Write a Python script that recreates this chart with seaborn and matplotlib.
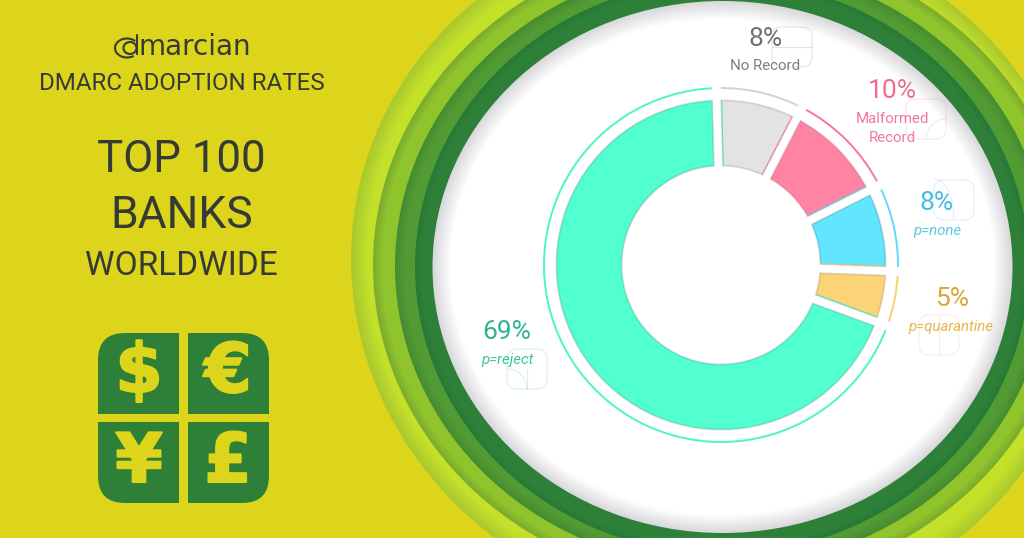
import matplotlib.patheffects as pe
import matplotlib.pyplot as plt
import seaborn as sns
from matplotlib.colors import to_rgb
from matplotlib.patches import Arc, Circle, Ellipse, FancyBboxPatch, Rectangle

W, H = 1024, 538
PX = 0.72  # one pixel in points at dpi 100

categories = ["No Record", "Malformed Record", "p=none", "p=quarantine", "p=reject"]
shares = [8, 10, 8, 5, 69]
pct_labels = ["8%", "10%", "8%", "5%", "69%"]
fill_colors = ["#e3e3e3", "#ff84a3", "#62e5ff", "#fcd478", "#52ffcf"]
edge_colors = ["#d0d0d0", "#ff749a", "#50cdec", "#ebc162", "#46ebbf"]
ring_colors = ["#d4d4d4", "#f47a98", "#62dcfa", "#f9cf74", "#4ff5c8"]
text_colors = ["#707070", "#ec6f8e", "#45bde0", "#dba537", "#2db48f"]

BG = "#dcd51b"
DARK = "#363a36"

# outer to inner: rx, ry, colour at the rim, colour of the band, width of the fade, tilt
bands = [
    (369, 347, "#a9c92f", "#c3e02a", 16, 13),
    (349, 321, "#7cab2d", "#90c42d", 9, 0),
    (327, 302, "#458c30", "#529a33", 9, 0),
    (307, 287, "#257a36", "#2e8038", 6, 0),
    (290, 266, "#d9d9dc", "#ffffff", 18, 0),
]
centers = [(719, 268), (722, 265), (722, 266), (722, 267), (722.5, 267)]


def blend(a, b, t):
    a, b = to_rgb(a), to_rgb(b)
    return tuple(x + (y - x) * t for x, y in zip(a, b))


sns.set_theme(style="white")
plt.rcParams["font.family"] = ["Roboto", "DejaVu Sans"]

fig = plt.figure(figsize=(W / 100, H / 100), dpi=100, facecolor=BG)
ax = fig.add_axes([0, 0, 1, 1])
ax.set_xlim(0, W)
ax.set_ylim(H, 0)
ax.axis("off")

# backdrop rings
for (rx, ry, rim, main, fade, tilt), (cx, cy) in zip(bands, centers):
    for i in range(fade + 1):
        ax.add_patch(
            Ellipse((cx, cy), 2 * (rx - i), 2 * (ry - i), angle=tilt, fc=blend(rim, main, i / fade), ec="none")
        )

# left column
ax.text(195, 47, "marcian", fontsize=20, color=DARK, ha="center", va="center", family="DejaVu Sans")
ax.add_patch(Arc((127, 48), 24, 19, theta1=50, theta2=320, ec=DARK, lw=1.5))
ax.add_patch(Ellipse((130, 48), 13, 12, fc="none", ec=DARK, lw=1.5))
ax.plot([137, 137], [35, 54], color=DARK, lw=1.5)

ax.text(182, 83.5, "DMARC ADOPTION RATES", fontsize=17.4, color=DARK, ha="center", va="center")
ax.text(181.5, 160, "TOP 100", fontsize=31.5, color=DARK, ha="center", va="center")
ax.text(181.5, 216, "BANKS", fontsize=32, color=DARK, ha="center", va="center")
ax.text(181, 266, "WORLDWIDE", fontsize=24, color=DARK, ha="center", va="center")

# currency tile
GREEN = "#2e8038"
ax.add_patch(
    FancyBboxPatch((98, 333), 171, 170, boxstyle="round,pad=0,rounding_size=27", fc=GREEN, ec="none")
)
ax.add_patch(Rectangle((179, 325), 9, 185, fc=BG, ec="none"))
ax.add_patch(Rectangle((90, 414), 185, 8, fc=BG, ec="none"))
for sym, x, y in [("$", 139, 373), ("€", 228, 373), ("¥", 139, 463), ("£", 228, 463)]:
    ax.text(x, y, sym, fontsize=49, fontweight="bold", color=BG, ha="center", va="center",
            family="DejaVu Sans", path_effects=[pe.withStroke(linewidth=1.5, foreground=BG)])

# faint squares behind the labels
squares = [(772, 27), (906, 99), (934, 180), (919, 315), (507, 349)]
for (x, y), color in zip(squares, text_colors):
    ax.add_patch(
        FancyBboxPatch((x, y), 40, 40, boxstyle="round,pad=0,rounding_size=10",
                       fc="none", ec=color, lw=0.8, alpha=0.18)
    )
ax.plot([772, 812], [47, 47], color=text_colors[0], lw=0.8, alpha=0.18)
ax.plot([939, 939], [315, 355], color=text_colors[3], lw=0.8, alpha=0.18)
ax.plot([527, 527], [369, 389], color=text_colors[4], lw=0.8, alpha=0.18)
ax.add_patch(Arc((946, 139), 40, 40, theta1=180, theta2=270, ec=text_colors[1], lw=0.8, alpha=0.18))
ax.add_patch(Arc((934, 219), 40, 80, theta1=270, theta2=360, ec=text_colors[2], lw=0.8, alpha=0.18))
ax.add_patch(Arc((507, 389), 40, 40, theta1=270, theta2=360, ec=text_colors[4], lw=0.8, alpha=0.18))

# labels
pct_pos = [(766, 39), (892, 91), (937, 203), (952, 299), (507, 332)]
for s, (x, y), color in zip(pct_labels, pct_pos, text_colors):
    ax.text(x, y, s, fontsize=19, color=color, ha="center", va="center")
ax.text(765, 66, "No Record", fontsize=10.8, color="#7f7f7f", ha="center", va="center")
ax.text(892, 119, "Malformed", fontsize=10.8, color="#f27898", ha="center", va="center")
ax.text(892, 138, "Record", fontsize=10.8, color="#f27898", ha="center", va="center")
ax.text(937, 231, categories[2], fontsize=10.8, style="italic", color="#5cc9e8", ha="center", va="center")
ax.text(951, 327, categories[3], fontsize=10.8, style="italic", color="#e6b44e", ha="center", va="center")
ax.text(507, 360, categories[4], fontsize=10.8, style="italic", color="#3cc4a0", ha="center", va="center")

# donut, in its own axes with one data unit per pixel
CX, CY, HALF = 721, 265, 195
pie_ax = fig.add_axes([(CX - HALF) / W, 1 - (CY + HALF) / H, 2 * HALF / W, 2 * HALF / H])
pie_ax.patch.set_alpha(0)
START = 91.5
GAP = 8


def donut_pass(colors, strokes, lw):
    wedges, _ = pie_ax.pie(shares, radius=165 + GAP / 2, colors=colors, startangle=START, counterclock=False,
                           wedgeprops=dict(width=66 + GAP))
    for w, color in zip(wedges, strokes):
        w.set_edgecolor(color)
        w.set_linewidth(lw * PX)


donut_pass(sns.color_palette(fill_colors), edge_colors, GAP + 3)
for lw, color in [(GAP + 0.8, "#cfcfcf"), (GAP - 0.2, "#e6e6e6"), (GAP - 1.2, "#ffffff")]:
    donut_pass(["none"] * 5, [color] * 5, lw)

# the strokes spill into the hole, so paint it clean
pie_ax.add_patch(Circle((0, 0), 98, fc="#ffffff", ec="none"))

# thin outer ring: the white stroke eats the wedge down to a hairline
RING_GAP = 9
pie_ax.pie(shares, radius=178 + RING_GAP / 2, colors=sns.color_palette(ring_colors), startangle=START,
           counterclock=False, wedgeprops=dict(width=2 + RING_GAP, lw=RING_GAP * PX, ec="#ffffff"))

pie_ax.set_xlim(-HALF, HALF)
pie_ax.set_ylim(-HALF, HALF)
pie_ax.set_aspect("equal")

fig.savefig("out.png", dpi=100, facecolor=BG)
plt.close(fig)
